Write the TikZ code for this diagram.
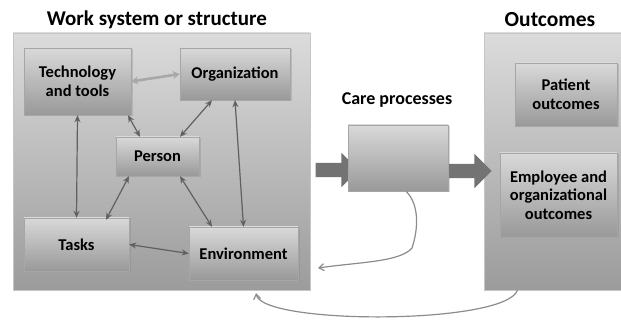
\documentclass[tikz,border=0pt]{standalone}
\usepackage{fontspec}
\setmainfont{Carlito}
\usetikzlibrary{shadows,shapes.arrows,arrows.meta,calc}
\begin{document}
\begin{tikzpicture}[x=1pt,y=-1pt,
  bigbox/.style={draw=gray!45, top color=gray!28, bottom color=gray!78, minimum width=#1, inner sep=0pt},
  inbox/.style={draw=gray!70, top color=gray!30, bottom color=gray!80,
    drop shadow={opacity=0.3, shadow xshift=1.5pt, shadow yshift=-1.5pt},
    font=\bfseries\fontsize{16.5}{18.5}\selectfont, align=center, inner sep=0pt},
  title/.style={font=\bfseries\fontsize{#1}{24}\selectfont, inner sep=0pt},
  link/.style={draw=gray!75!black, line width=1.2pt, {Stealth[length=7pt,width=6pt]}-{Stealth[length=7pt,width=6pt]}},
  softlink/.style={draw=gray!68, line width=2.6pt, {Stealth[length=7pt,width=8pt]}-{Stealth[length=7pt,width=8pt]}},
  fat/.style={single arrow, fill=gray!90!black, draw=none, single arrow head extend=10pt, inner sep=7pt, single arrow tip angle=90},
  loop/.style={draw=gray!90, line width=1.2pt, -{Straight Barb[length=5pt,width=7pt]}}
]
\useasboundingbox (0,0) rectangle (621,320);

% big containers
\node[bigbox=297pt, minimum height=257pt] (ws) at (161.5,161.5) {};
\node[bigbox=139pt, minimum height=257pt] (oc) at (553.5,161.5) {};

% titles
\node[title=21] (t1) at (157,20) {Work system or structure};
\node[title=21.5] (t2) at (550,20) {Outcomes};
\node[inner sep=0pt, font=\bfseries\fontsize{18}{20}\selectfont] (t3) at (397,100) {Care processes};

% inner boxes
\node[inbox, minimum width=107pt, minimum height=67pt] (tech) at (77.5,81.5) {Technology\\and tools};
\node[inbox, minimum width=110pt, minimum height=52pt] (org) at (235,74) {Organization};
\node[inbox, minimum width=83pt, minimum height=39pt] (person) at (157.5,156.5) {Person};
\node[inbox, minimum width=105pt, minimum height=53pt] (tasks) at (76.5,244.5) {Tasks};
\node[inbox, minimum width=109pt, minimum height=53pt] (env) at (243.5,253.5) {Environment};

% block arrows
\node[fat, minimum height=43pt] (a1) at (333.5,170) {};
\node[fat, minimum height=44pt] (a2) at (466,171) {};

\node[inbox, minimum width=100pt, minimum height=66pt] (care) at (398,158) {};
\node[inbox, minimum width=102pt, minimum height=63pt] (pat) at (566,94.5) {Patient\\outcomes};
\node[inbox, minimum width=117pt, minimum height=84pt] (emp) at (558.5,195) {Employee and\\organizational\\outcomes};

% links
\draw[softlink] (tech.east) -- (org.west);
\draw[link] ([xshift=50.5pt]tech.south) -- ([xshift=-17.5pt]person.north);
\draw[link] ([xshift=-23pt]org.south) -- ([xshift=22.5pt]person.north);
\draw[link] (tech.south) -- (tasks.north);
\draw[link] (org.south) -- (env.north);
\draw[link] ([xshift=-28.5pt]person.south) -- ([xshift=29.5pt,yshift=-2pt]tasks.north);
\draw[link] ([xshift=22.5pt]person.south) -- ([xshift=-31.5pt]env.north);
\draw[link] (tasks.east) -- (env.west);

% feedback loops
\coordinate (fb) at (318,268);
\draw[loop] ([xshift=8pt]care.south) .. controls (420,205) and (418,230) .. (412,248)
  .. controls (400,262) and (360,262) .. (fb);
\draw[loop] ([xshift=-36pt]oc.south) .. controls (505,325) and (262,325) .. ([xshift=94.5pt,yshift=-3pt]ws.south);
\end{tikzpicture}
\end{document}
